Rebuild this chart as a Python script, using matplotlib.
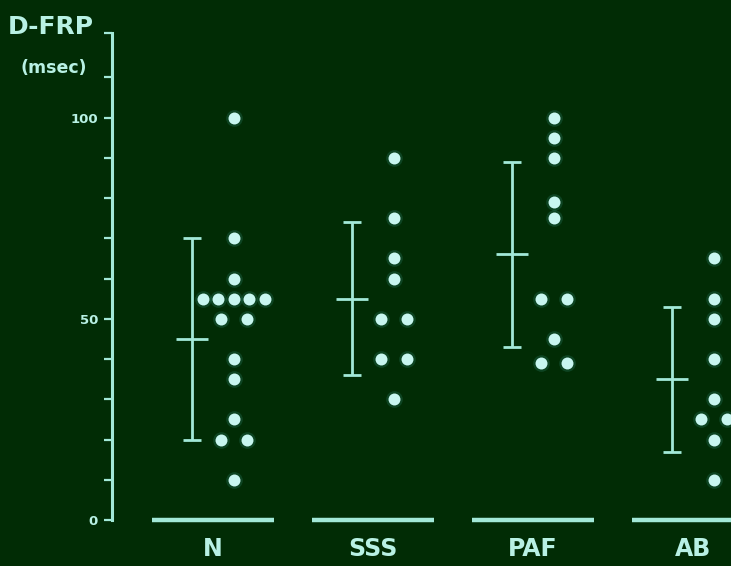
import numpy as np
import matplotlib.pyplot as plt

# values (msec)
groups = ['N', 'SSS', 'PAF', 'AB']
n_vals = [100, 70, 60, 55, 55, 55, 55, 55, 50, 50, 40, 35, 25, 20, 20, 10]
sss_vals = [90, 75, 65, 60, 50, 50, 40, 40, 30]
paf_vals = [100, 95, 90, 79, 75, 55, 55, 45, 39, 39]
ab_vals = [65, 55, 50, 40, 30, 25, 25, 20, 10]
means = [45, 55, 66, 35]
sds = [25, 19, 23, 18]

BG = '#012c05'
DOT = '#c8f6f0'
LINE = '#a2e9d8'
TXT = '#b8f1e4'


def dodge(vals):
    # spread equal values side by side
    vals = np.asarray(vals, dtype=float)
    off = np.zeros(len(vals))
    for v in np.unique(vals):
        idx = np.where(vals == v)[0]
        k = len(idx)
        if k > 1:
            step = 0.16 if k == 2 else 0.097
            off[idx] = (np.arange(k) - (k - 1) / 2) * step
    return off


def main():
    fig = plt.figure(figsize=(7.31, 5.66), dpi=100, facecolor=BG)
    ax = fig.add_axes([112 / 731, 46 / 566, 619 / 731, 487 / 566])
    ax.set_facecolor(BG)
    ax.patch.set_alpha(0)

    all_vals = [n_vals, sss_vals, paf_vals, ab_vals]
    for i, vals in enumerate(all_vals):
        # baseline under each group
        ax.hlines(0, i - 0.38, i + 0.38, color=LINE, lw=3.2, clip_on=False)

        # mean +/- sd bar
        xe = i - 0.13
        lo, hi = means[i] - sds[i], means[i] + sds[i]
        ax.vlines(xe, lo, hi, color=LINE, lw=2.0)
        ax.hlines([lo, hi], xe - 0.055, xe + 0.055, color=LINE, lw=2.0)
        ax.hlines(means[i], xe - 0.1, xe + 0.1, color=LINE, lw=2.0)

        # individual points
        xd = i + 0.13 + dodge(vals)
        ax.plot(xd, vals, 'o', color='#3fa89a', ms=12, alpha=0.2,
                mew=0, clip_on=False)
        ax.plot(xd, vals, 'o', color=DOT, ms=8.6, mew=0, clip_on=False)

    ax.set_xlim(-0.63125, 3.2375)
    ax.set_ylim(0, 121)

    for s in ['top', 'right', 'bottom']:
        ax.spines[s].set_visible(False)
    ax.spines['left'].set_color(LINE)
    ax.spines['left'].set_linewidth(2.2)

    ax.set_yticks([0, 50, 100])
    ax.set_yticklabels(['0', '50', '100'])
    ax.set_yticks([10, 20, 30, 40, 60, 70, 80, 90, 110, 121], minor=True)
    ax.tick_params(axis='y', which='both', direction='out', length=6,
                   width=1.6, color=LINE, labelcolor=TXT, labelsize=9.5,
                   pad=4)
    for lab in ax.get_yticklabels():
        lab.set_fontweight('bold')

    ax.set_xticks(range(len(groups)))
    ax.set_xticklabels(groups, fontsize=17, fontweight='bold', color=TXT)
    ax.tick_params(axis='x', length=0, pad=12)

    fig.text(8 / 731, 1 - 27 / 566, 'D-FRP', ha='left', va='center',
             fontsize=18, fontweight='bold', color=TXT)
    fig.text(54 / 731, 1 - 68 / 566, '(msec)', ha='center', va='center',
             fontsize=12.5, fontweight='bold', color=TXT)

    fig.savefig('out.png', dpi=100, facecolor=BG)


if __name__ == '__main__':
    main()
